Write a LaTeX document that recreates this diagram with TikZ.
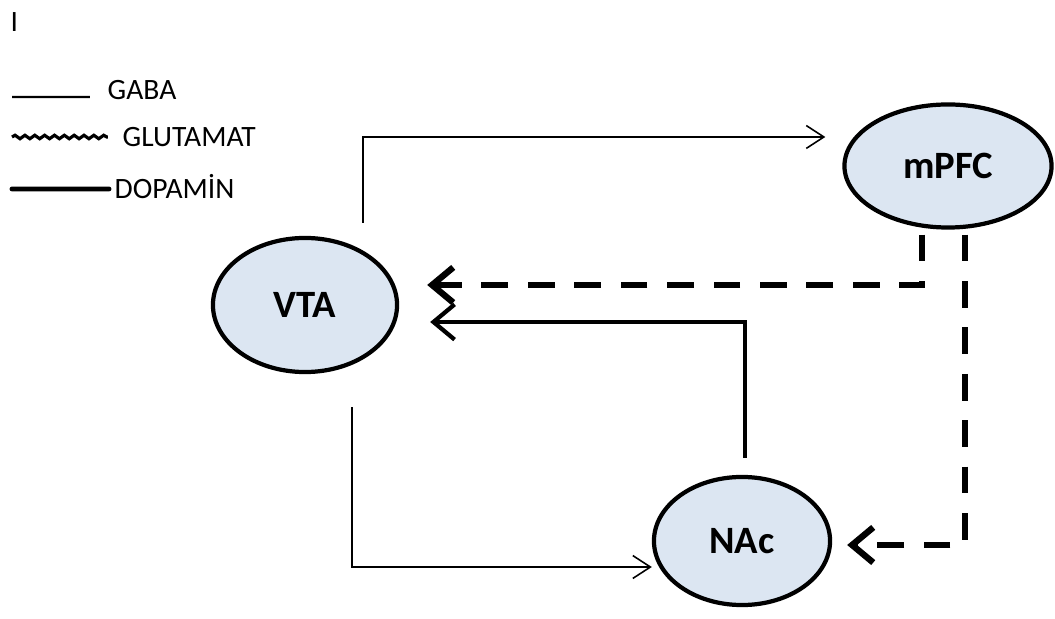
\documentclass[tikz,border=0pt]{standalone}
\usepackage{fontspec}
\setmainfont{Carlito}
\usetikzlibrary{shapes.geometric,arrows.meta,decorations.pathmorphing}
\definecolor{areafill}{HTML}{DCE6F2}
\begin{document}
\begin{tikzpicture}[x=0.01cm,y=-0.01cm]
    \tikzstyle{area}=[ellipse,draw,line width=1.2pt,fill=areafill,inner sep=0pt,font=\bfseries\fontsize{11}{13}\selectfont]
    \tikzstyle{legend}=[anchor=west,inner sep=0pt,font=\fontsize{8.4}{10}\selectfont]
    \tikzstyle{gaba}=[line width=0.45pt,-{Straight Barb[length=5pt,width=6.5pt]}]
    \tikzstyle{glut}=[line width=1.8pt,dash pattern=on 7.6pt off 5.6pt,-{Straight Barb[length=6pt,width=10pt]}]
    \tikzstyle{dopa}=[line width=1.2pt,-{Straight Barb[length=6pt,width=10pt]}]
    \useasboundingbox (0,0) rectangle (1055,619);
    \node[legend] (mark) at (10,22) {I};
    % legend
    \node[legend] (lgaba) at (107,90) {GABA};
    \node[legend] (lglut) at (122,137) {GLUTAMAT};
    \node[legend] (ldopa) at (114,187) {DOPAMİN};
    \draw[line width=0.6pt] (12,97) -- ([xshift=-0.17cm,yshift=-0.07cm]lgaba.west);
    \draw[line width=0.9pt,decorate,decoration={snake,amplitude=0.5pt,segment length=2.8pt}] (12,137) -- ([xshift=-0.14cm]lglut.west);
    \draw[line width=1.4pt,line cap=round] (12,189) -- ([xshift=-0.05cm,yshift=-0.02cm]ldopa.west);
    % areas
    \node[area,minimum width=1.84cm,minimum height=1.34cm] (vta) at (305,305) {VTA};
    \node[area,minimum width=2.07cm,minimum height=1.23cm] (mpfc) at (948,166) {mPFC};
    \node[area,minimum width=1.76cm,minimum height=1.28cm] (nac) at (742,541) {NAc};
    % projections
    \draw[gaba] ([xshift=0.58cm,yshift=0.13cm]vta.north) |- ([xshift=-0.17cm,yshift=0.29cm]mpfc.west);
    \draw[gaba] ([xshift=0.47cm,yshift=-0.33cm]vta.south) |- ([yshift=-0.26cm]nac.west);
    \draw[glut] ([xshift=-0.26cm,yshift=-0.05cm]mpfc.south) |- ([xshift=0.28cm,yshift=0.2cm]vta.east);
    \draw[glut] ([xshift=0.17cm,yshift=-0.05cm]mpfc.south) |- ([xshift=0.15cm,yshift=-0.04cm]nac.east);
    \draw[dopa] ([xshift=0.03cm,yshift=0.17cm]nac.north) |- ([xshift=0.31cm,yshift=-0.17cm]vta.east);
\end{tikzpicture}
\end{document}
